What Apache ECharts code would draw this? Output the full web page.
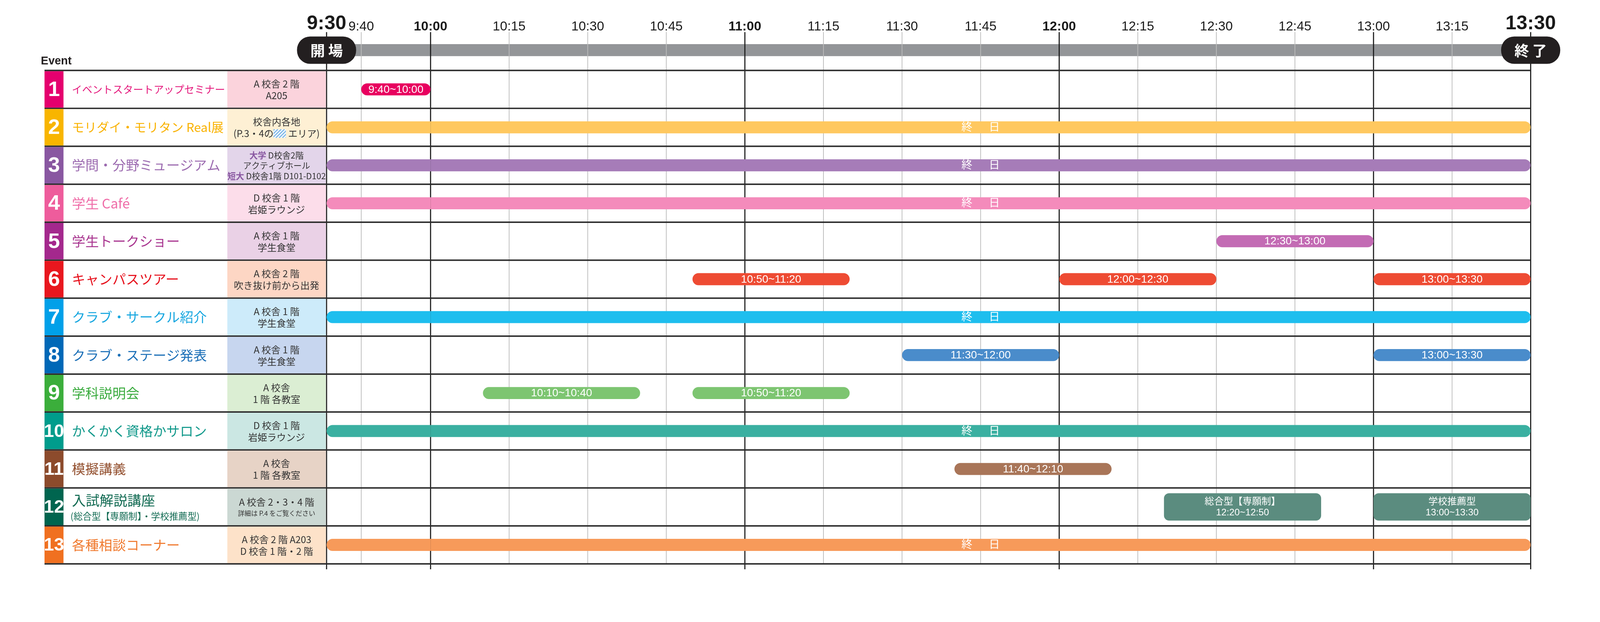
<!DOCTYPE html>
<html><head><meta charset="utf-8">
<script src="https://cdn.jsdelivr.net/npm/echarts@6/dist/echarts.min.js"></script>
<style>html,body{margin:0;padding:0;background:#fff;overflow:hidden}#c{width:100vw;height:100vh}</style>
</head><body><div id="c"></div>
<script>
// ---------------- DATA ----------------
const eventNumbers = ['1','2','3','4','5','6','7','8','9','10','11','12','13'];
const eventNames = ['イベントスタートアップセミナー','モリダイ・モリタン Real展','学問・分野ミュージアム','学生 Café','学生トークショー','キャンパスツアー','クラブ・サークル紹介','クラブ・ステージ発表','学科説明会','かくかく資格かサロン','模擬講義','入試解説講座','各種相談コーナー'];
const eventSubNames = ['','','','','','','','','','','','(総合型【専願制】・学校推薦型)',''];
const eventLocations = [
  ['A 校舎 2 階','A205'],
  ['校舎内各地','(P.3・4の▨ エリア)'],
  ['大学 D校舎2階','アクティブホール','短大 D校舎1階 D101-D102'],
  ['D 校舎 1 階','岩姫ラウンジ'],
  ['A 校舎 1 階','学生食堂'],
  ['A 校舎 2 階','吹き抜け前から出発'],
  ['A 校舎 1 階','学生食堂'],
  ['A 校舎 1 階','学生食堂'],
  ['A 校舎','1 階 各教室'],
  ['D 校舎 1 階','岩姫ラウンジ'],
  ['A 校舎','1 階 各教室'],
  ['A 校舎 2・3・4 階','詳細は P.4 をご覧ください'],
  ['A 校舎 2 階 A203','D 校舎 1 階・2 階']
];
const highlightWords = ['大学','短大'];
const fullDayLabel = '終\u3000\u2002日';
const sessionRows   = [0,1,2,3,4,5,5,5,6,7,7,8,8,9,10,11,11,12];
const sessionStarts = ['9:40','9:30','9:30','9:30','12:30','10:50','12:00','13:00','9:30','11:30','13:00','10:10','10:50','9:30','11:40','12:20','13:00','9:30'];
const sessionEnds   = ['10:00','13:30','13:30','13:30','13:00','11:20','12:30','13:30','13:30','12:00','13:30','10:40','11:20','13:30','12:10','12:50','13:30','13:30'];
const sessionLabels = ['9:40~10:00',fullDayLabel,fullDayLabel,fullDayLabel,'12:30~13:00','10:50~11:20','12:00~12:30','13:00~13:30',fullDayLabel,'11:30~12:00','13:00~13:30','10:10~10:40','10:50~11:20',fullDayLabel,'11:40~12:10','総合型【専願制】\n12:20~12:50','学校推薦型\n13:00~13:30',fullDayLabel];
const majorTicks = ['9:30','10:00','11:00','12:00','13:00','13:30'];
const minorTicks = ['9:40','10:15','10:30','10:45','11:15','11:30','11:45','12:15','12:30','12:45','13:15'];
const bigTickLabels = ['9:30','13:30'];
const boldTickLabels = ['10:00','11:00','12:00'];
const dayStart = '9:30', breakTime = '10:00', dayEnd = '13:30';
const gateTimes = ['9:30','13:30'];
const gateLabels = ['開 場','終 了'];

// ---------------- STYLES ----------------
const blockColors = ['#E5006E','#F8B500','#8957A1','#EE5C9C','#A4288D','#E8171E','#00A0E9','#0068B7','#3BAE3B','#009C8C','#8C4B2C','#00654F','#F07020'];
const nameColors  = ['#E4157A','#F9B200','#9C6BB0','#EF6DA8','#A8348F','#E60E1A','#18A7E0','#1B6FB7','#3AAB3E','#12998B','#93502F','#126B53','#F07A2F'];
const locBgColors = ['#FBD3DC','#FEF0D4','#E3D5EA','#FCDDEA','#EAD1E6','#FDD6C4','#CDEBFA','#C7D6EF','#DBEED3','#CBE7E3','#E7D3C6','#CBD8D3','#FDE2C9'];
const barColors   = ['#E8005F','#FFC85F','#A67CB8','#F48BBB','#C36BB4','#EE4B33','#1EBEEE','#4A8CCB','#7DC571','#3AB0A1','#A97558','#5B8C7F','#F79A5A'];
const nameFontSizes = [28,34,37,37,37,37,37,37,37,37,37,38,37];
const locLineStyles = [['t','t'],['t','t'],['m','m','m'],['t','t'],['t','t'],['t','t'],['t','t'],['t','t'],['t','t'],['t','t'],['t','t'],['t','s'],['t','t']];

const CJK = "'Noto Sans CJK JP', sans-serif";
const LAT = "'Liberation Sans', 'Noto Sans CJK JP', sans-serif";
const NARROW = "'Liberation Sans Narrow', 'Liberation Sans', sans-serif";

// scale factor: layout is designed for a 4385 x 1593 page
const S = Math.min(window.innerWidth / 4385, window.innerHeight / 1593) || 1;
const p = v => v * S;

const L = {tableLeft:122, numRight:174, nameX:197, locLeft:623, locRight:893, gridTop:193, gridBottom:1546,
  lineTop:88, majorBottom:1561, tableRight:4195, barY0:121, barY1:154, pillW:162, pillH:75, pillY:100, chartLeft:895, breakX:1180};
Object.keys(L).forEach(k => { L[k] = p(L[k]); });

const toMin = t => { const q = t.split(':'); return (+q[0]) * 60 + (+q[1]); };
const fmt = m => Math.floor(m / 60) + ':' + String(m % 60).padStart(2, '0');

const ranges = [[toMin(dayStart), toMin(breakTime)], [toMin(breakTime), toMin(dayEnd)]];

// hatch pattern
const hatch = document.createElement('canvas');
hatch.width = 34; hatch.height = 24;
(function(){ const c = hatch.getContext('2d'); c.fillStyle = '#fff'; c.fillRect(0,0,34,24);
  c.strokeStyle = '#7DB6E8'; c.lineWidth = 3.2;
  for (let k = -30; k < 60; k += 9) { c.beginPath(); c.moveTo(k, 24); c.lineTo(k + 24, 0); c.stroke(); } })();

const locRich = {
  t: {fontSize:p(26), fontFamily:CJK, fill:'#333', color:'#333', lineHeight:p(32)},
  m: {fontSize:p(23), fontFamily:CJK, fill:'#333', color:'#333', lineHeight:p(28)},
  p: {fontSize:p(23), fontFamily:CJK, fill:'#8957A1', color:'#8957A1', fontWeight:'bold', lineHeight:p(28)},
  s: {fontSize:p(18), fontFamily:CJK, fill:'#333', color:'#333', lineHeight:p(29)},
  h: {width:p(34), height:p(24), lineHeight:p(32), backgroundColor:{image:hatch}}
};

function locText(i) {
  return eventLocations[i].map((line, j) => {
    const st = locLineStyles[i][j];
    let out = '';
    let rest = line;
    highlightWords.forEach(w => { if (rest.indexOf(w) === 0) { out += '{p|' + w + '}'; rest = rest.slice(w.length); } });
    const parts = rest.split('▨');
    parts.forEach((q, k) => { if (q) out += '{' + st + '|' + q + '}'; if (k < parts.length - 1) out += '{h|}'; });
    return out;
  }).join('\n');
}

// ---------------- RENDERERS ----------------
function gridlineRender(params, api) {
  const x = api.coord([api.value(0), 0])[0];
  const major = api.value(2) === 1;
  return {type:'line', shape:{x1:x, y1:L.lineTop, x2:x, y2: major ? L.majorBottom : L.gridBottom},
    style:{stroke: major ? '#1a1a1a' : '#bcbcbc', lineWidth: major ? p(3) : p(2)}};
}
function clampSpan(params, api, s, e, row) {
  const cs = params.coordSys;
  const xs = api.coord([s, row])[0], xe = api.coord([e, row])[0];
  const a = Math.max(xs, cs.x), b = Math.min(xe, cs.x + cs.width);
  return {xs, xe, a, b, leftOpen: xs >= cs.x - 0.5, rightOpen: xe <= cs.x + cs.width + 0.5, cy: api.coord([s, row])[1]};
}
function grayBarRender(params, api) {
  const sp = clampSpan(params, api, api.value(0), api.value(2), 0);
  if (sp.b - sp.a <= 0.5) return null;
  return {type:'rect', shape:{x:sp.a, y:L.barY0, width:sp.b - sp.a, height:L.barY1 - L.barY0}, style:{fill:'#939598'}};
}
function pillRender(params, api) {
  const x = api.coord([api.value(0), 0])[0];
  return {type:'group', children:[
    {type:'rect', shape:{x:x - L.pillW/2, y:L.pillY, width:L.pillW, height:L.pillH, r:p(36)}, style:{fill:'#231f20'}},
    {type:'text', x:x, y:L.pillY + L.pillH/2 + p(1), style:{text:gateLabels[api.value(2)], fill:'#fff', fontSize:p(40), fontWeight:'bold', fontFamily:CJK, align:'center', verticalAlign:'middle'}}
  ]};
}
function sessionRender(range) {
  return function(params, api) {
    const s = api.value(0), row = api.value(1), e = api.value(2), idx = api.value(3);
    const sp = clampSpan(params, api, s, e, row);
    if (sp.b - sp.a <= 0.5) return null;
    const label = sessionLabels[idx];
    const tall = label.indexOf('\n') >= 0;
    const h = tall ? p(75) : p(33), r = tall ? p(14) : h / 2;
    const rl = sp.leftOpen ? r : 0, rr = sp.rightOpen ? r : 0;
    const children = [{type:'rect', shape:{x:sp.a, y:sp.cy - h/2, width:sp.b - sp.a, height:h, r:[rl, rr, rr, rl]}, style:{fill:barColors[row]}}];
    const mid = (s + e) / 2;
    if (mid >= range[0] && mid <= range[1]) {
      children.push({type:'text', x:(sp.a + sp.b)/2, y:sp.cy + p(1), style:{text:label, fill:'#fff', fontSize: tall ? p(26) : p(30), lineHeight: tall ? p(30) : p(32), fontFamily:LAT, align:'center', verticalAlign:'middle'}});
    }
    return {type:'group', children};
  };
}
function tableRender(params, api) {
  const i = api.value(1);
  const c = api.coord([api.value(0), i]);
  const bh = api.size([0, 1])[1];
  const cy = c[1], top = cy - bh/2, bot = cy + bh/2;
  const ch = [];
  ch.push({type:'rect', shape:{x:L.tableLeft, y:top + p(2), width:L.numRight - L.tableLeft, height:bh - p(4)}, style:{fill:blockColors[i]}});
  ch.push({type:'rect', shape:{x:L.locLeft, y:top + p(2), width:L.locRight - L.locLeft, height:bh - p(4)}, style:{fill:locBgColors[i]}});
  const two = eventNumbers[i].length > 1;
  ch.push({type:'text', x:(L.tableLeft + L.numRight)/2, y:cy + p(2), style:{text:eventNumbers[i], fill:'#fff', fontSize: two ? p(50) : p(58), fontWeight:'bold', fontFamily:NARROW, align:'center', verticalAlign:'middle'}});
  if (eventSubNames[i]) {
    ch.push({type:'text', x:L.nameX, y:cy - p(18), style:{text:eventNames[i], fill:nameColors[i], fontSize:p(nameFontSizes[i]), fontFamily:CJK, align:'left', verticalAlign:'middle'}});
    ch.push({type:'text', x:L.nameX - p(4), y:cy + p(26), style:{text:eventSubNames[i], fill:nameColors[i], fontSize:p(25), fontFamily:CJK, align:'left', verticalAlign:'middle'}});
  } else {
    ch.push({type:'text', x:L.nameX, y:cy, style:{text:eventNames[i], fill:nameColors[i], fontSize:p(nameFontSizes[i]), fontFamily:CJK, align:'left', verticalAlign:'middle'}});
  }
  ch.push({type:'text', x:(L.locLeft + L.locRight)/2, y:cy + p(1), style:{text:locText(i), rich:locRich, fill:'#333', fontSize:p(26), fontFamily:CJK, align:'center', verticalAlign:'middle'}});
  ch.push({type:'line', shape:{x1:L.tableLeft, y1:bot, x2:L.tableRight, y2:bot}, style:{stroke:'#2b2b2b', lineWidth:p(4)}});
  if (i === 0) ch.push({type:'line', shape:{x1:L.tableLeft, y1:top, x2:L.tableRight, y2:top}, style:{stroke:'#2b2b2b', lineWidth:p(4)}});
  return {type:'group', children:ch};
}

// ---------------- OPTION ----------------
const allTicks = majorTicks.concat(minorTicks);
const inRangeA = t => toMin(t) < toMin(breakTime);
const tickData = g => allTicks.filter(t => g === 0 ? inRangeA(t) : !inRangeA(t))
  .map(t => [toMin(t), 0, majorTicks.indexOf(t) >= 0 ? 1 : 0]);
const sessionData = sessionRows.map((r, k) => [toMin(sessionStarts[k]), r, toMin(sessionEnds[k]), k]);
const gateData = g => gateTimes.map((t, k) => [toMin(t), 0, k]).filter(d => g === 0 ? d[0] < toMin(breakTime) : d[0] >= toMin(breakTime));

function labelFormatter(g) {
  return function(v) {
    const t = fmt(v);
    if (allTicks.indexOf(t) < 0) return '';
    if (g === 0 && !inRangeA(t)) return '';
    if (bigTickLabels.indexOf(t) >= 0) return '{big|' + t + '}';
    if (boldTickLabels.indexOf(t) >= 0) return '{bold|' + t + '}';
    return '{reg|' + t + '}';
  };
}
const tickRich = {
  big: {fontSize:p(54), fontWeight:'bold', fontFamily:LAT, color:'#1a1a1a', lineHeight:p(56)},
  bold:{fontSize:p(36), fontWeight:'bold', fontFamily:LAT, color:'#1a1a1a', lineHeight:p(38)},
  reg: {fontSize:p(36), fontFamily:LAT, color:'#1a1a1a', lineHeight:p(38)}
};

const grids = [
  {left:L.chartLeft, top:L.gridTop, width:L.breakX - L.chartLeft, height:L.gridBottom - L.gridTop},
  {left:L.breakX, top:L.gridTop, width:L.tableRight - L.breakX, height:L.gridBottom - L.gridTop}
];
const xAxes = [0, 1].map(g => ({
  gridIndex:g, type:'value', min:ranges[g][0], max:ranges[g][1], interval: g === 0 ? 10 : 15, position:'top',
  axisLine:{show:false}, axisTick:{show:false}, splitLine:{show:false},
  axisLabel:{show:true, margin:p(100), hideOverlap:false, showMinLabel:true, showMaxLabel:true, formatter:labelFormatter(g), rich:tickRich}
}));
const yAxes = [0, 1].map(g => ({gridIndex:g, type:'category', data:eventNumbers, inverse:true, show:false}));

const series = [];
[0, 1].forEach(g => {
  series.push({type:'custom', name:'bar'+g, xAxisIndex:g, yAxisIndex:g, z:1, clip:false, renderItem:grayBarRender,
    data:[[toMin(dayStart), 0, toMin(dayEnd)]], silent:true});
  series.push({type:'custom', name:'grid'+g, xAxisIndex:g, yAxisIndex:g, z:2, clip:false, renderItem:gridlineRender, data:tickData(g), silent:true});
  series.push({type:'custom', name:'sess'+g, xAxisIndex:g, yAxisIndex:g, z:4, clip:false, renderItem:sessionRender(ranges[g]), data:sessionData, silent:true});
  series.push({type:'custom', name:'gate'+g, xAxisIndex:g, yAxisIndex:g, z:5, clip:false, renderItem:pillRender, data:gateData(g), silent:true});
});
series.push({type:'custom', name:'table', xAxisIndex:0, yAxisIndex:0, z:3, clip:false, renderItem:tableRender,
  data:eventNumbers.map((n, i) => [toMin(dayStart), i]), silent:true});

const chart = echarts.init(document.getElementById('c'));
chart.setOption({
  animation:false,
  backgroundColor:'#fff',
  grid:grids, xAxis:xAxes, yAxis:yAxes, series:series,
  graphic:[{type:'text', left:p(112), top:p(153), style:{text:'Event', fontSize:p(31), fontWeight:'bold', fontFamily:LAT, fill:'#231f20'}}]
});
window.addEventListener('resize', () => chart.resize());
</script></body></html>
